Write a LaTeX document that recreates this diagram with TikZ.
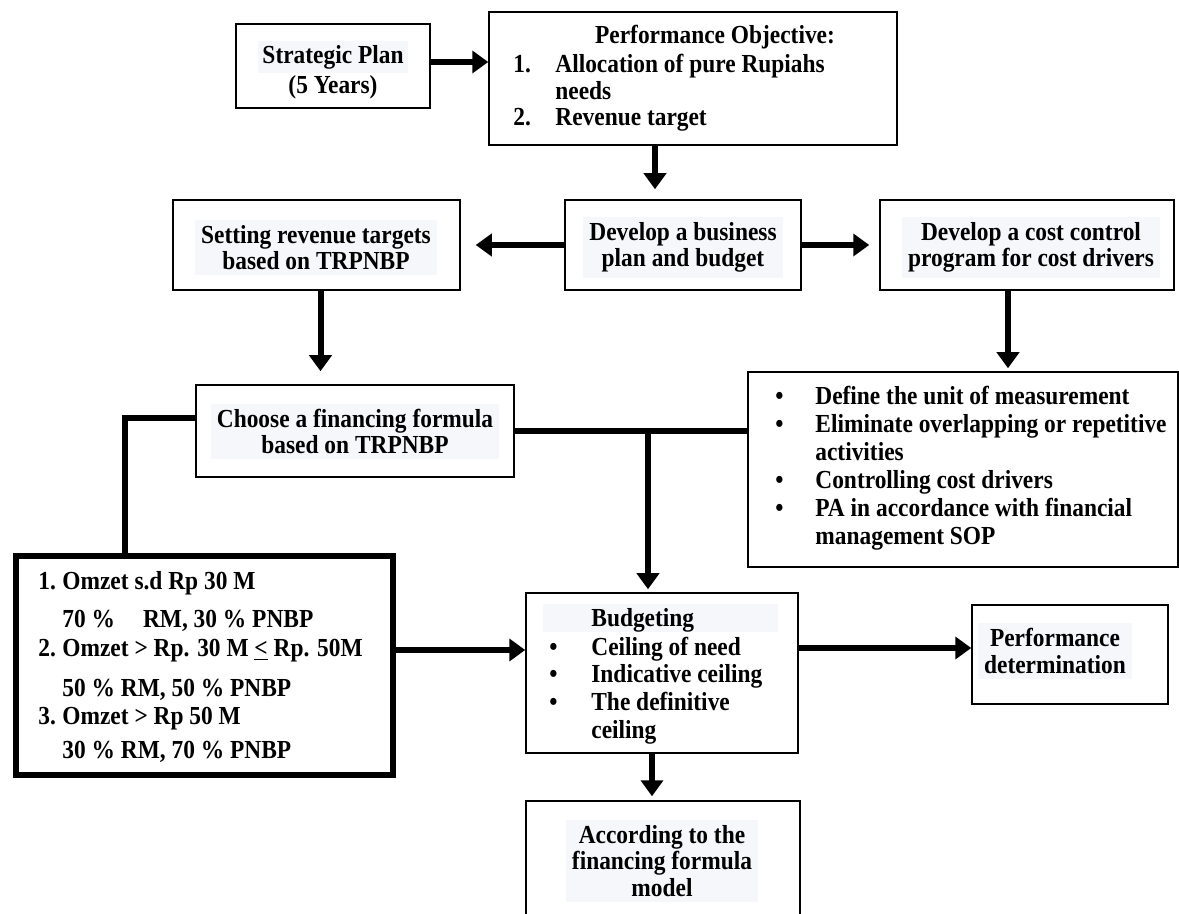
\documentclass[tikz,border=0pt]{standalone}
\usepackage{fontspec}
\setmainfont{Liberation Serif}[FakeStretch=0.9]
\usetikzlibrary{arrows.meta,calc}
\definecolor{hl}{HTML}{F5F7FA}
\begin{document}
\begin{tikzpicture}[x=0.5pt,y=-0.5pt,
  bx/.style={draw, line width=0.75pt, inner sep=0pt},
  tx/.style={font=\fontsize{13}{13.3}\selectfont\bfseries, align=center, inner sep=0pt},
  htx/.style={tx, fill=hl, inner xsep=3pt, inner ysep=2.5pt},
  lst/.style={font=\fontsize{13}{14}\selectfont\bfseries, inner sep=0pt, anchor=base west},
  ln/.style={line width=3pt},
  arr/.style={line width=3pt, -{Triangle[length=8pt,width=11pt]}}]
\useasboundingbox (0,0) rectangle (1179,914);
\clip (0,0) rectangle (1179,914);

% boxes
\node[bx, minimum width=97pt, minimum height=42pt] (sp) at (333,66) {};
\node[tx] (spt) at (333,70) {{\setlength\fboxsep{2pt}\colorbox{hl}{Strategic Plan}}\\(5 Years)};

\node[bx, minimum width=204pt, minimum height=66.5pt] (po) at (693,78.5) {};
\node[tx] (pot) at (715,37) {Performance Objective:};
\node[lst, font=\fontsize{13}{13.2}\selectfont\bfseries] (pol) at (513,73) {\begin{tabular}[t]{@{}p{21pt}@{}l@{}}1.&Allocation of pure Rupiahs\\&needs\\2.&Revenue target\end{tabular}};

\node[bx, minimum width=118pt, minimum height=45pt] (dev) at (683,245) {};
\node[htx] (devt) at (683,247.5) {Develop a business\\plan and budget};
\node[bx, minimum width=143.5pt, minimum height=45pt] (set) at (316.5,245) {};
\node[htx] (sett) at (316,247.5) {Setting revenue targets\\based on TRPNBP};
\node[bx, minimum width=147pt, minimum height=45pt] (cost) at (1027,245) {};
\node[htx] (costt) at (1031,247.5) {Develop a cost control\\program for cost drivers};
\node[bx, minimum width=159pt, minimum height=46pt] (ch) at (355,431) {};
\node[htx] (cht) at (355,431.5) {Choose a financing formula\\based on TRPNBP};

\node[bx, minimum width=215pt, minimum height=97.5pt] (bul) at (963,469.5) {};
\node[lst] (bult) at (775,405) {\begin{tabular}[t]{@{}p{20pt}@{}l@{}}\textbullet&Define the unit of measurement\\ \textbullet&Eliminate overlapping or repetitive\\&activities\\ \textbullet&Controlling cost drivers\\ \textbullet&PA in accordance with financial\\&management SOP\end{tabular}};

\node[draw, line width=3pt, minimum width=188.5pt, minimum height=109.5pt] (omz) at (204.5,665.5) {};
\node[lst] (omzt) at (38,589) {\begin{tabular}[t]{@{}p{12pt}@{}l@{}}1.&Omzet s.d Rp 30 M\\[5.5pt]
&70 \%\hspace{14pt}RM, 30 \% PNBP\\[0.5pt]
2.&Omzet > Rp. 30 M \underline{<} Rp. 50M\\[6pt]
&50 \% RM, 50 \% PNBP\\
3.&Omzet > Rp 50 M\\[3pt]
&30 \% RM, 70 \% PNBP\end{tabular}};

\node[bx, minimum width=136pt, minimum height=80pt] (bud) at (662,673) {};
\fill[hl] (543,604) rectangle (778,632);
\node[lst] (budt) at (549,627) {\begin{tabular}[t]{@{}p{21pt}@{}l@{}}&Budgeting\\ \textbullet&Ceiling of need\\ \textbullet&Indicative ceiling\\ \textbullet&The definitive\\&ceiling\end{tabular}};

\node[bx, minimum width=98pt, minimum height=49.5pt] (pd) at (1070,654.5) {};
\node[htx] (pdt) at (1055,651) {Performance\\determination};

\node[bx, minimum width=137pt, minimum height=74.5pt] (acc) at (663,875.5) {};
\node[htx] (acct) at (662,861) {According to the\\financing formula\\model};

% connectors
\path ([yshift=2pt]sp.east) coordinate (a1);
\draw[arr] (a1) -- (a1 -| po.west);

\path ([xshift=-19pt]po.south) coordinate (a2);
\draw[arr, shorten >=5pt] (a2) -- (a2 |- dev.north);

\draw[arr] (dev.west) -- ([xshift=7.5pt]set.east);
\draw[arr] (dev.east) -- ([xshift=-5pt]cost.west);

\path ([xshift=2pt]set.south) coordinate (a3);
\draw[arr, shorten >=6.5pt] (a3) -- (a3 |- ch.north);

\path ([xshift=-9.5pt]cost.south) coordinate (a4);
\draw[arr, shorten >=1.5pt] (a4) -- (a4 |- bul.north);

\draw[ln] (ch.east) -- (ch.east -| bul.west);
\path (ch.east -| bud.north) coordinate (j0);
\path ([xshift=-7pt]j0) coordinate (j);
\draw[arr, shorten >=1.5pt] (j) -- (j |- bud.north);

\path ([yshift=6.5pt]ch.west) coordinate (a5);
\path ([xshift=-40pt]omz.north) coordinate (a6);
\draw[ln] (a5) -| (a6);

\path ([yshift=7.75pt]omz.east) coordinate (a7);
\draw[arr] (a7) -- (a7 -| bud.west);

\path ([yshift=3.25pt]pd.west) coordinate (a8);
\draw[arr] (a8 -| bud.east) -- (a8);

\path ([xshift=-5pt]bud.south) coordinate (a9);
\draw[arr, shorten >=2pt] (a9) -- (a9 |- acc.north);
\end{tikzpicture}
\end{document}
